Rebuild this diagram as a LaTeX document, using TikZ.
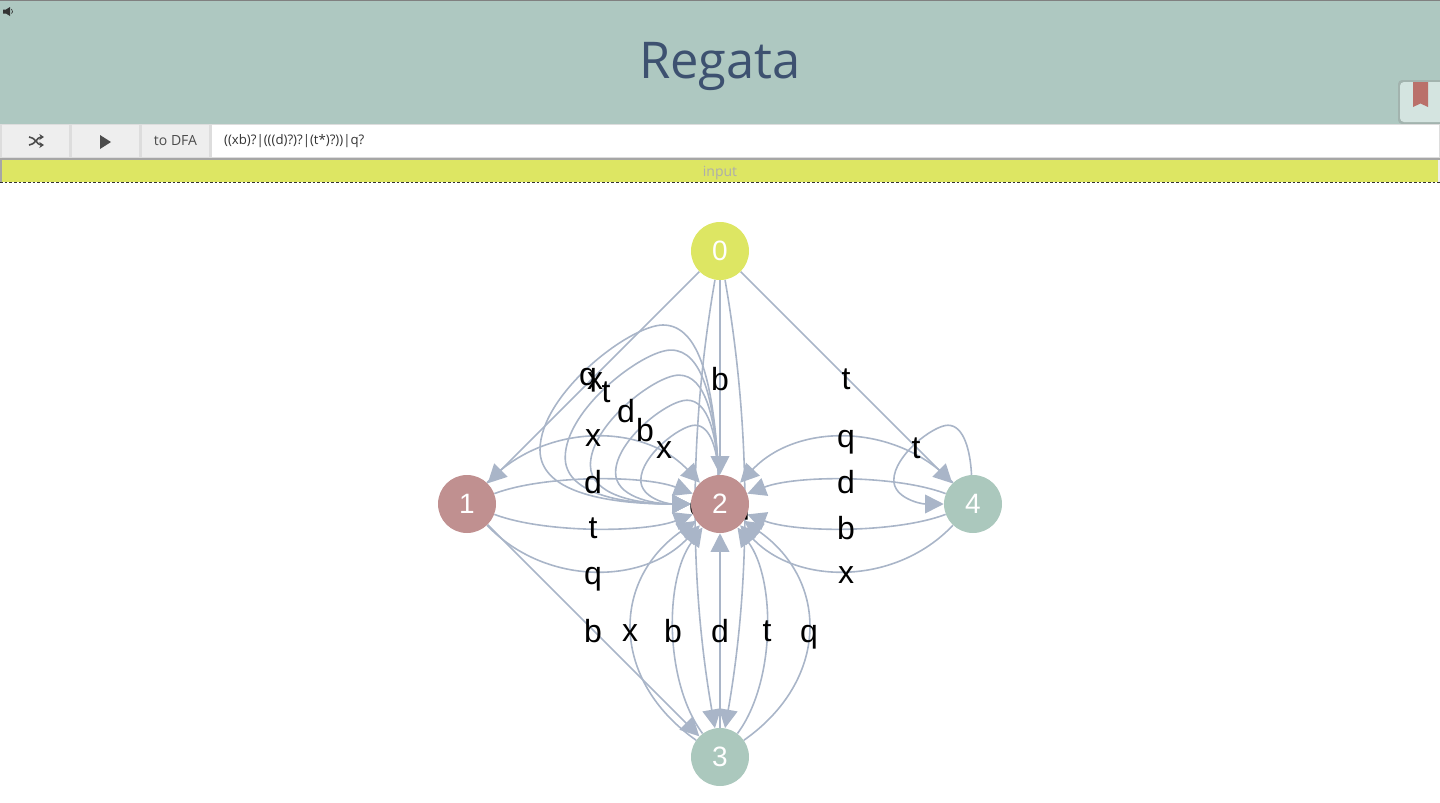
\documentclass[tikz,border=0pt]{standalone}
\usepackage{fontspec}
\setmainfont{Open Sans}
\newfontfamily\labelfont{Liberation Sans}
\definecolor{headteal}{RGB}{174,200,193}
\definecolor{titleblue}{RGB}{61,81,112}
\definecolor{barlime}{RGB}{221,230,99}
\definecolor{noderose}{RGB}{192,144,144}
\definecolor{nodeteal}{RGB}{171,200,189}
\definecolor{edgeblue}{RGB}{169,181,200}
\definecolor{btngrey}{RGB}{238,238,238}
\definecolor{btnline}{RGB}{221,221,221}
\definecolor{markpale}{RGB}{212,228,224}
\definecolor{markred}{RGB}{186,112,106}
\usetikzlibrary{arrows.meta, backgrounds}

\begin{document}
\begin{tikzpicture}[
    x=0.75pt, y=-0.75pt,
    state/.style={circle, minimum size=43.5pt, inner sep=0pt, text=white,
        font=\labelfont\fontsize{21}{21}\selectfont},
    rosy/.style={state, fill=noderose},
    tealy/.style={state, fill=nodeteal},
    edge/.style={-{Triangle[length=14pt,width=14pt]}, edgeblue, line width=1.2pt},
    lab/.style={inner sep=0pt, text=black, font=\labelfont\fontsize{24}{24}\selectfont},
    wide/.style={looseness=1.0},
    flat/.style={looseness=0.68},
    vwide/.style={looseness=1.22},
    vflat/.style={looseness=0.8},
    btn/.style={draw=btnline, fill=btngrey, line width=1pt, minimum height=24.5pt,
        minimum width=51.5pt, inner sep=0pt, text=black!70, font=\fontsize{10.5}{12}\selectfont}
  ]
  \useasboundingbox (0,0) rectangle (1440,803);

  % page header
  \fill[headteal] (0,0) rectangle (1440,124);
  \fill[black!50] (0,0) rectangle (1440,1.5);
  \node[text=titleblue, font=\fontsize{38}{38}\selectfont, inner sep=0pt] (title) at (720,67) {Regata};

  % speaker
  \fill[black!80] (3,9.5) -- (6,9.5) -- (10,7) -- (10,16) -- (6,13.5) -- (3,13.5) -- cycle;
  \draw[black!80, line width=0.5pt] (11.5,9) arc (-50:50:3);

  % bookmark
  \fill[black!45, opacity=0.35, rounded corners=3pt] (1398,80) rectangle (1444,124);
  \fill[markpale, rounded corners=3pt] (1400,82) rectangle (1444,122);
  \fill[markred] (1413,82) -- (1428,82) -- (1428,107) -- (1420.5,103.5) -- (1413,107) -- cycle;

  % toolbar
  \node[btn] (shuffle) at (35.5,141) {};
  \node[btn] (play) at (105.5,141) {};
  \node[btn] (dfa) at (175.5,141) {to DFA};
  \node[draw=btnline, fill=white, line width=1pt, minimum height=24.5pt, minimum width=921pt,
    inner sep=0pt, text=black!80, font=\fontsize{9.9}{12}\selectfont,
    text width=902pt, align=left] (regex) at (825.5,141) {((xb)?|(((d)?)?|(t*)?))|q?};
  \draw[black!70, line width=1.2pt, -{Stealth[length=3.5pt,width=4.5pt]}]
    (29,137) .. controls (35,137) and (37,145) .. (44,145);
  \draw[black!70, line width=1.2pt, -{Stealth[length=3.5pt,width=4.5pt]}]
    (29,145) .. controls (35,145) and (37,137) .. (44,137);
  \fill[black!70] (100,135) -- (111,142) -- (100,149) -- cycle;

  % input bar
  \fill[barlime] (1,158) rectangle (1438,182);
  \fill[black!35] (0,158) rectangle (1440,160);
  \fill[black!35] (0,158) rectangle (2,182);
  \fill[btngrey] (1438,160) rectangle (1440,182);
  \draw[black!80, dashed, dash pattern=on 2pt off 1.5pt, line width=0.6pt] (0,182.5) -- (1440,182.5);
  \node[text=black!32, inner sep=0pt, font=\fontsize{10.5}{12}\selectfont] (input) at (720,173) {input};

  % states
  \node[tealy, fill=barlime] (n0) at (720,251) {0};
  \node[rosy] (n1) at (467,504) {1};
  \node[rosy] (n2) at (720,504) {2};
  \node[tealy] (n3) at (720,757) {3};
  \node[tealy] (n4) at (973,504) {4};

  \begin{pgfonlayer}{background}
    % self loops
    \foreach \s in {1,0.86,0.72,0.58,0.44} {
      \begin{scope}[shift={(n2)}, scale=\s]
        \draw[edge] (n2) .. controls (-6,-119) and (-20,-179) .. (-57,-179)
          .. controls (-90,-179) and (-180,-110) .. (-180,-54)
          .. controls (-180,-14) and (-120,0) .. (n2);
      \end{scope}
    }
    \begin{scope}[shift={(n4)}, scale=0.44]
      \draw[edge] (n4) .. controls (-6,-119) and (-20,-179) .. (-57,-179)
        .. controls (-90,-179) and (-180,-110) .. (-180,-54)
        .. controls (-180,-14) and (-120,0) .. (n4);
    \end{scope}

    \draw[edge] (n0) -- (n1);
    \draw[edge] (n0) -- (n2);
    \draw[edge] (n0) -- (n4);
    \draw[edge] (n1) -- (n3);
    \draw[edge] (n3) -- (n2);
    \draw[edge, looseness=0.865] (n0) to[bend left=9.9] (n3);
    \draw[edge, looseness=0.865] (n0) to[bend right=9.9] (n3);

    \draw[edge, wide] (n1) to[bend left=46.6] (n2);
    \draw[edge, flat] (n1) to[bend left=20.8] (n2);
    \draw[edge, flat] (n1) to[bend right=20.8] (n2);
    \draw[edge, wide] (n1) to[bend right=46.6] (n2);

    \draw[edge, wide] (n4) to[bend right=46.6] (n2);
    \draw[edge, flat] (n4) to[bend right=20.8] (n2);
    \draw[edge, flat] (n4) to[bend left=20.8] (n2);
    \draw[edge, wide] (n4) to[bend left=46.6] (n2);

    \draw[edge, vwide] (n3) to[bend left=54.9] (n2);
    \draw[edge, vflat] (n3) to[bend left=36.6] (n2);
    \draw[edge, vflat] (n3) to[bend right=36.6] (n2);
    \draw[edge, vwide] (n3) to[bend right=54.9] (n2);

    % edge labels
    \node[lab] (lq0) at (588,380) {q};
    \node[lab] (lx0) at (595,381) {x};
    \node[lab] (lt0) at (606,392) {t};
    \node[lab] (ld0) at (626,411) {d};
    \node[lab] (lb0) at (645,430) {b};
    \node[lab] (lx1) at (664,450) {x};
    \node[lab] (lb1) at (720,379) {b};
    \node[lab] (lt1) at (846,379) {t};
    \node[lab] (lt2) at (916,448) {t};
    \node[lab] (lx2) at (593,438) {x};
    \node[lab] (ld1) at (593,482) {d};
    \node[lab] (lt3) at (593,528) {t};
    \node[lab] (lq1) at (593,579) {q};
    \node[lab] (lb2) at (593,631) {b};
    \node[lab] (lq2) at (846,442) {q};
    \node[lab] (ld2) at (846,482) {d};
    \node[lab] (lb3) at (846,528) {b};
    \node[lab] (lx3) at (846,575) {x};
    \node[lab] (lx4) at (630,633) {x};
    \node[lab] (lb4) at (673,631) {b};
    \node[lab] (ld3) at (720,631) {d};
    \node[lab] (lt4) at (767,631) {t};
    \node[lab] (lq3) at (809,637) {q};
    \node[lab] (ld4) at (698,504) {d};
    \node[lab] (lq4) at (741,508) {q};
  \end{pgfonlayer}
\end{tikzpicture}
\end{document}
